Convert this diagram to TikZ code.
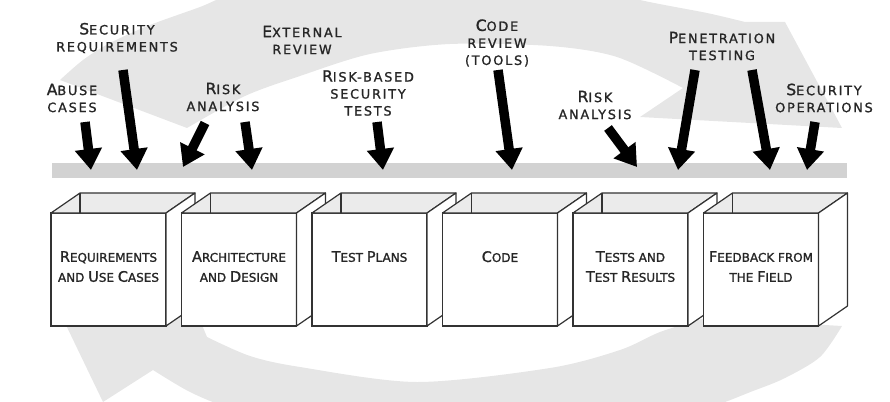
\documentclass[tikz,border=0pt]{standalone}
\usepackage{fontspec}
\setmainfont{DejaVu Sans}
\newfontfamily\tagfont{DejaVu Sans}[LetterSpace=14, FakeBold=1.3]
\newfontfamily\phasefont{DejaVu Sans}[FakeBold=1.3]
\usetikzlibrary{arrows.meta,positioning}
\definecolor{loopgrey}{HTML}{E6E6E6}
\definecolor{bargrey}{HTML}{D2D2D2}
\definecolor{topgrey}{HTML}{EBEBEB}
\definecolor{edgegrey}{HTML}{333333}
\newcommand{\bigc}[1]{{\fontsize{15.5}{17}\selectfont #1}}
\newcommand{\bigp}[1]{{\fontsize{14.5}{17}\selectfont #1}}
\tikzset{
	phase/.style={draw=edgegrey, line width=1.2pt, fill=white, minimum width=115pt, minimum height=113pt, inner sep=0pt, outer sep=0pt},
	side/.style={draw=edgegrey, line width=1.2pt, line join=round},
	phasetext/.style={font=\phasefont\fontsize{12}{20}\selectfont, align=center, inner sep=0pt, text=black!85},
	activity/.style={font=\tagfont\fontsize{12.8}{17}\selectfont, align=center, inner sep=0pt, text=black!85},
	track/.style={fill=bargrey, minimum width=795pt, minimum height=15pt, inner sep=0pt},
	push/.style={line width=9.5pt, -{Triangle[length=21pt,width=26pt]}},
}
% open top and right face of a phase box
\newcommand{\opentop}[1]{%
	\filldraw[side, fill=topgrey] (#1.north west) -- ++(29,-20) -- ([shift={(29,-20)}]#1.north east) -- (#1.north east) -- cycle;
	\draw[side] ([shift={(29,-20)}]#1.north west) -- ++(0,20);
	\filldraw[side, fill=white] (#1.north east) -- ++(29,-20) -- ++(0,113) -- (#1.south east) -- cycle;
}

\begin{document}
\begin{tikzpicture}[x=1pt, y=-1pt, node distance=130.5pt]
	\useasboundingbox (0,0) rectangle (890,401);
	% big grey cycle behind everything
	\begin{scope}
		\clip (0,0) rectangle (890,401);
		\fill[loopgrey] plot[smooth] coordinates {(187,128) (245,96) (300,76) (370,54) (450,44) (550,46) (617,57) (683,88)}
			-- (640,117) -- (842,128) -- (785,22) -- (745,22)
			-- plot[smooth] coordinates {(745,22) (707,13) (640,0) (550,-22) (420,-32) (300,-22) (230,-5) (200,7) (150,25) (110,43) (83,60) (60,80)} -- cycle;
		\fill[loopgrey] plot[smooth] coordinates {(207,337) (250,356) (300,367) (417,382) (550,368) (620,350) (660,332) (705,318)}
			-- (842,326)
			-- plot[smooth] coordinates {(842,326) (820,357) (785,378) (753,391) (700,410) (600,430) (450,440) (300,425) (230,408) (190,392) (153,370)}
			-- (103,402) -- (52,296) -- (175,260) -- cycle;
	\end{scope}

	\node[track] (bar) at (449.5,170.5) {};

	% activities
	\node[activity] (abuse) at (72,98) {\bigc{A}BUSE\\CASES};
	\node[activity] (secreq) at (117,38) {\bigc{S}ECURITY\\REQUIREMENTS};
	\node[activity] (extrev) at (302,40) {\bigc{E}XTERNAL\\REVIEW};
	\node[activity] (risk1) at (223,97) {\bigc{R}ISK\\ANALYSIS};
	\node[activity] (rbtests) at (368,93) {\bigc{R}ISK-BASED\\SECURITY\\TESTS};
	\node[activity] (coderev) at (497,43) {\bigc{C}ODE\\REVIEW\\(TOOLS)};
	\node[activity] (risk2) at (595,105) {\bigc{R}ISK\\ANALYSIS};
	\node[activity] (pentest) at (722,46) {\bigc{P}ENETRATION\\TESTING};
	\node[activity] (secops) at (824,98) {\bigc{S}ECURITY\\OPERATIONS};

	\coordinate (abuse0) at (85,122);   \coordinate (abuse1) at (91,170);
	\coordinate (secreq0) at (123,70);  \coordinate (secreq1) at (137,170);
	\coordinate (riskA0) at (205,123);  \coordinate (riskA1) at (183,167);
	\coordinate (riskB0) at (245,122);  \coordinate (riskB1) at (252,170);
	\coordinate (rbtests0) at (377,122); \coordinate (rbtests1) at (383,170);
	\coordinate (coderev0) at (498,70); \coordinate (coderev1) at (512,170);
	\coordinate (risk20) at (608,128);  \coordinate (risk21) at (637,167);
	\coordinate (penA0) at (695,70);    \coordinate (penA1) at (678,170);
	\coordinate (penB0) at (752,70);    \coordinate (penB1) at (770,170);
	\coordinate (secops0) at (815,122); \coordinate (secops1) at (807,170);

	\draw[push] (abuse0) -- (abuse1);
	\draw[push] (secreq0) -- (secreq1);
	\draw[push] (riskA0) -- (riskA1);
	\draw[push] (riskB0) -- (riskB1);
	\draw[push] (rbtests0) -- (rbtests1);
	\draw[push] (coderev0) -- (coderev1);
	\draw[push] (risk20) -- (risk21);
	\draw[push] (penA0) -- (penA1);
	\draw[push] (penB0) -- (penB1);
	\draw[push] (secops0) -- (secops1);

	% phases
	\node[phase] (req) at (108.5,269.5) {};
	\opentop{req}
	\node[phase, right of=req] (arch) {};
	\opentop{arch}
	\node[phase, right of=arch] (plans) {};
	\opentop{plans}
	\node[phase, right of=plans] (code) {};
	\opentop{code}
	\node[phase, right of=code] (tests) {};
	\opentop{tests}
	\node[phase, right of=tests] (field) {};
	\opentop{field}

	\node[phasetext, below=38pt of req.north] (reqt) {\bigp{R}EQUIREMENTS\\AND \bigp{U}SE \bigp{C}ASES};
	\node[phasetext, below=38pt of arch.north] (archt) {\bigp{A}RCHITECTURE\\AND \bigp{D}ESIGN};
	\node[phasetext, below=38pt of plans.north] (planst) {\bigp{T}EST \bigp{P}LANS};
	\node[phasetext, below=38pt of code.north] (codet) {\bigp{C}ODE};
	\node[phasetext, below=38pt of tests.north] (testst) {\bigp{T}ESTS AND\\\bigp{T}EST \bigp{R}ESULTS};
	\node[phasetext, below=38pt of field.north] (fieldt) {\bigp{F}EEDBACK FROM\\THE \bigp{F}IELD};
\end{tikzpicture}
\end{document}
